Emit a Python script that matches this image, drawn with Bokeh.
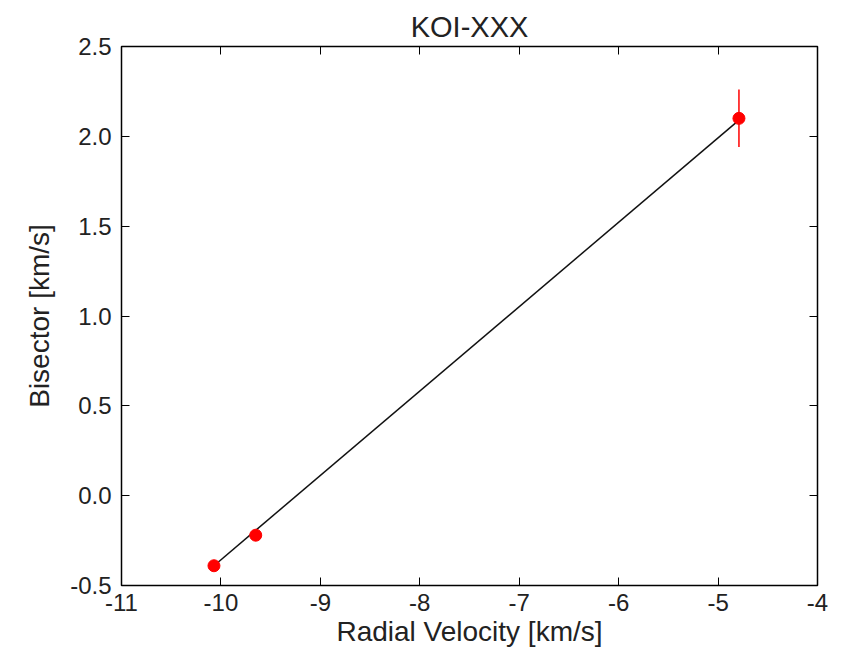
from bokeh.plotting import figure
from bokeh.models import LinearAxis, FixedTicker, Range1d, ColumnDataSource
from bokeh.embed import file_html
from bokeh.resources import INLINE

# Data
rv = [-10.07, -9.65, -4.79]
bis = [-0.39, -0.22, 2.10]
bis_err = [0.02, 0.02, 0.16]
fit_x = [-10.07, -4.79]
fit_y = [-0.39, 2.09]

x_ticks = [-11, -10, -9, -8, -7, -6, -5, -4]
x_labels = ["-11", "-10", "-9", "-8", "-7", "-6", "-5", "-4"]
y_ticks = [-0.5, 0.0, 0.5, 1.0, 1.5, 2.0, 2.5]
y_labels = ["-0.5", "0.0", "0.5", "1.0", "1.5", "2.0", "2.5"]

FONT = "Liberation Sans"

p = figure(width=848, height=650, output_backend="svg", toolbar_location=None,
           x_range=Range1d(-11, -4), y_range=Range1d(-0.5, 2.5),
           title="KOI-XXX", x_axis_label="Radial Velocity [km/s]",
           y_axis_label="Bisector [km/s]")
p.min_border_left = 121
p.min_border_right = 31
p.min_border_top = 46
p.min_border_bottom = 65
p.background_fill_color = "white"
p.border_fill_color = "white"
p.outline_line_color = "black"
p.outline_line_width = 1.5
p.grid.visible = False

p.title.align = "center"
p.title.text_font = FONT
p.title.text_font_size = "29px"
p.title.text_font_style = "normal"
p.title.text_color = "#222222"
p.title.offset = 0
p.title.standoff = 8

def style_axis(ax, ticks, labels, show_labels=True):
    ax.ticker = FixedTicker(ticks=ticks)
    ax.major_tick_in = 8
    ax.major_tick_out = 0
    ax.minor_tick_in = 0
    ax.minor_tick_out = 0
    ax.major_tick_line_color = "black"
    ax.major_tick_line_width = 1
    ax.axis_line_color = None
    ax.major_label_text_font = FONT
    ax.major_label_text_color = "#222222"
    if show_labels:
        ax.major_label_overrides = {t: l for t, l in zip(ticks, labels)}
        ax.major_label_text_font_size = "24px"
    else:
        ax.major_label_overrides = {t: "" for t in ticks}
        ax.major_label_standoff = 0
    ax.axis_label_text_font = FONT
    ax.axis_label_text_font_size = "28px"
    ax.axis_label_text_font_style = "normal"
    ax.axis_label_text_color = "#222222"

style_axis(p.xaxis[0], x_ticks, x_labels)
style_axis(p.yaxis[0], y_ticks, y_labels)
p.xaxis[0].major_label_standoff = 8
p.xaxis[0].axis_label_standoff = 2
p.yaxis[0].major_label_standoff = 10
p.yaxis[0].axis_label_standoff = 12

top = LinearAxis()
right = LinearAxis()
style_axis(top, x_ticks, x_labels, show_labels=False)
style_axis(right, y_ticks, y_labels, show_labels=False)
p.add_layout(top, "above")
p.add_layout(right, "right")

src = ColumnDataSource(dict(x=rv, y=bis,
                            lo=[b - e for b, e in zip(bis, bis_err)],
                            hi=[b + e for b, e in zip(bis, bis_err)]))

p.line(fit_x, fit_y, line_color="#111111", line_width=1.5)
p.segment(x0="x", y0="lo", x1="x", y1="hi", source=src, line_color="red", line_width=1.5)
p.scatter("x", "y", source=src, size=12, fill_color="red", line_color="red")

open("out.html", "w").write(file_html(p, INLINE))
